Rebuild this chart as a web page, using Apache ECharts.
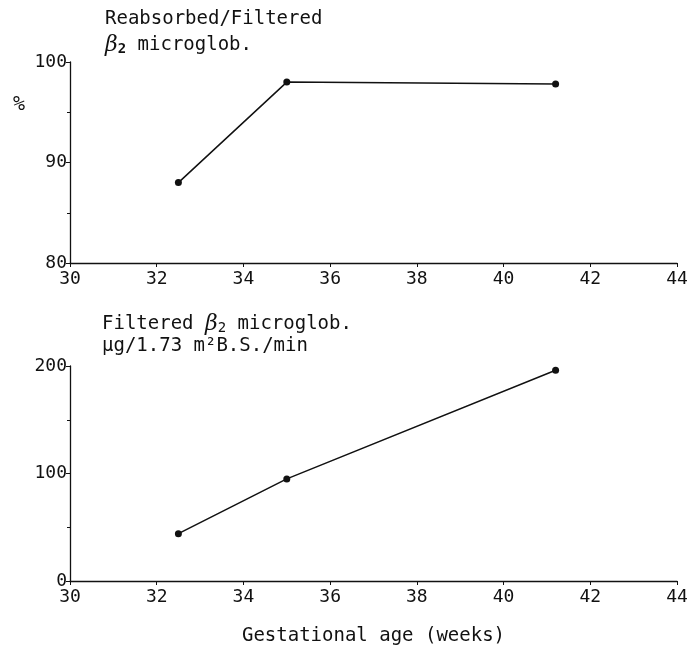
<!DOCTYPE html>
<html>
<head>
<meta charset="utf-8">
<script src="https://cdn.jsdelivr.net/npm/echarts@6/dist/echarts.min.js"></script>
<style>html,body{margin:0;padding:0;background:#fff}#c{width:699px;height:649px}</style>
</head>
<body>
<div id="c"></div>
<script>
const weeks = [32.5, 35, 41.2];
const reabsorbedPct = [88, 98, 97.8];
const filteredWeeks = [32.5, 35, 41.2];
const filteredAmount = [44, 95, 196];
const xTicks = [30, 32, 34, 36, 38, 40, 42, 44];

const FONT = '"DejaVu Sans Mono", "Liberation Mono", monospace';
const chart = echarts.init(document.getElementById('c'));

function xAxis(gridIndex, name) {
  return {
    type: 'value', gridIndex, min: 30, max: 44, interval: 2,
    name: name || '', nameLocation: 'middle', nameGap: 46,
    nameTextStyle: { fontFamily: FONT, fontSize: 19, color: '#111' },
    axisLine: { lineStyle: { color: '#111', width: 1.3 } },
    axisTick: { show: true, length: 4, lineStyle: { color: '#111' } },
    axisLabel: { fontFamily: FONT, fontSize: 18, color: '#111', margin: 7,
      formatter: v => xTicks.includes(v) ? String(v) : '' },
    splitLine: { show: false }
  };
}
function yAxis(gridIndex, min, max, interval) {
  return {
    type: 'value', gridIndex, min, max, interval,
    axisLine: { show: true, lineStyle: { color: '#111', width: 1.3 } },
    axisTick: { show: true, length: 4, lineStyle: { color: '#111' } },
    minorTick: { show: true, splitNumber: 2, length: 3, lineStyle: { color: '#111' } },
    axisLabel: { fontFamily: FONT, fontSize: 18, color: '#111', margin: 3 },
    splitLine: { show: false }
  };
}

chart.setOption({
  animation: false,
  backgroundColor: '#fff',
  grid: [
    { left: 70, right: 22, top: 62, height: 201 },
    { left: 70, right: 22, top: 366, height: 215 }
  ],
  xAxis: [xAxis(0), xAxis(1, 'Gestational age (weeks)')],
  yAxis: [yAxis(0, 80, 100, 10), yAxis(1, 0, 200, 100)],
  title: [
    { text: 'Reabsorbed/Filtered', left: 100, top: 5,
      textStyle: { fontFamily: FONT, fontSize: 19, fontWeight: 'normal', color: '#111' } },
    { text: '{b|β}{s|2} microglob.', left: 100, top: 29,
      textStyle: { fontFamily: FONT, fontSize: 19, fontWeight: 'normal', color: '#111',
        rich: { b: { fontFamily: '"DejaVu Serif", serif', fontStyle: 'italic', fontSize: 22, color: '#111' },
                s: { fontFamily: FONT, fontSize: 14, fontWeight: 'bold', color: '#111', verticalAlign: 'bottom', padding: [8,0,0,0] } } } },
    { text: '%', left: 8, top: 90,
      textStyle: { fontFamily: FONT, fontSize: 20, fontWeight: 'normal', color: '#111' } },
    { text: 'Filtered {b|β}{s|2} microglob.', left: 97, top: 308,
      textStyle: { fontFamily: FONT, fontSize: 19, fontWeight: 'normal', color: '#111',
        rich: { b: { fontFamily: '"DejaVu Serif", serif', fontStyle: 'italic', fontSize: 22, color: '#111' },
                s: { fontFamily: FONT, fontSize: 14, color: '#111', verticalAlign: 'bottom', padding: [8,0,0,0] } } } },
    { text: 'µg/1.73 m²B.S./min', left: 97, top: 332,
      textStyle: { fontFamily: FONT, fontSize: 19, fontWeight: 'normal', color: '#111' } }
  ],
  series: [
    { type: 'line', xAxisIndex: 0, yAxisIndex: 0,
      data: weeks.map((w, i) => [w, reabsorbedPct[i]]),
      symbol: 'circle', symbolSize: 7, lineStyle: { color: '#111', width: 1.5 },
      itemStyle: { color: '#111' } },
    { type: 'line', xAxisIndex: 1, yAxisIndex: 1,
      data: filteredWeeks.map((w, i) => [w, filteredAmount[i]]),
      symbol: 'circle', symbolSize: 7, lineStyle: { color: '#111', width: 1.5 },
      itemStyle: { color: '#111' } }
  ]
});
</script>
</body>
</html>
